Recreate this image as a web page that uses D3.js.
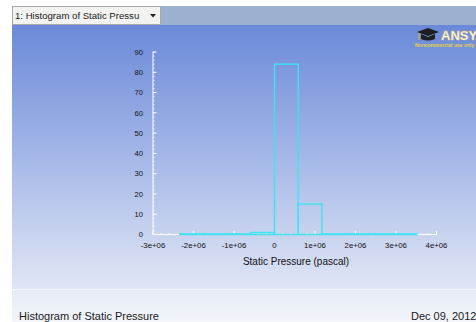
<!DOCTYPE html>
<html>
<head>
<meta charset="utf-8">
<script src="https://cdn.jsdelivr.net/npm/d3@7/dist/d3.min.js"></script>
<style>
  html, body { margin: 0; padding: 0; background: #ffffff; }
  svg { display: block; }
</style>
</head>
<body>
<svg id="chart" width="476" height="322"></svg>
<script>
// Histogram bins of static pressure (pascal): left edges, width and counts
const binStarts = [-2.34e6, -1.755e6, -1.17e6, -0.585e6, 0, 0.585e6, 1.17e6, 1.755e6, 2.34e6, 2.925e6];
const binWidth = 0.585e6;
const binCounts = [0.3, 0.3, 0.3, 1.0, 84, 15, 0.3, 0.3, 0.3, 0.3];

const xTicks = [-3e6, -2e6, -1e6, 0, 1e6, 2e6, 3e6, 4e6];
const xTickLabels = ["-3e+06", "-2e+06", "-1e+06", "0", "1e+06", "2e+06", "3e+06", "4e+06"];
const yTicks = [0, 10, 20, 30, 40, 50, 60, 70, 80, 90];

const titleText = "Histogram of Static Pressure";
const tabText = "1: Histogram of Static Pressu";
const xAxisTitle = "Static Pressure (pascal)";
const dateText = "Dec 09, 2012";

const svg = d3.select("#chart");
const W = 476, H = 322;
const font = "'Liberation Sans', Arial, sans-serif";

// Background gradient of the graphics window
const defs = svg.append("defs");
const grad = defs.append("linearGradient").attr("id", "bg").attr("x1", 0).attr("y1", 0).attr("x2", 0).attr("y2", 1);
grad.append("stop").attr("offset", "0%").attr("stop-color", "#6b89d8");
grad.append("stop").attr("offset", "45%").attr("stop-color", "#9fb3e6");
grad.append("stop").attr("offset", "100%").attr("stop-color", "#e0e6f4");

const foot = defs.append("linearGradient").attr("id", "foot").attr("x1", 0).attr("y1", 0).attr("x2", 0).attr("y2", 1);
foot.append("stop").attr("offset", "0%").attr("stop-color", "#e6ebf6");
foot.append("stop").attr("offset", "100%").attr("stop-color", "#f3f5fa");

const left = 12;
svg.append("rect").attr("x", left).attr("y", 25).attr("width", W - left).attr("height", 265).attr("fill", "url(#bg)");
svg.append("rect").attr("x", left).attr("y", 290).attr("width", W - left).attr("height", 32).attr("fill", "url(#foot)");
svg.append("line").attr("x1", left).attr("x2", W).attr("y1", 289.5).attr("y2", 289.5).attr("stroke", "#f4f7fc").attr("stroke-width", 1);

// Tab bar with the drop-down selector
svg.append("rect").attr("x", left).attr("y", 6).attr("width", W - left).attr("height", 19).attr("fill", "#9cb1cf");
svg.append("rect").attr("x", left + 0.5).attr("y", 6.5).attr("width", 148).attr("height", 18)
  .attr("fill", "#f2f2f0").attr("stroke", "#a8a8a8");
svg.append("text").attr("x", 15).attr("y", 19).attr("font-family", font).attr("font-size", 9.6)
  .attr("fill", "#222").text(tabText);
svg.append("path").attr("d", "M150,14 L156,14 L153,17.5 Z").attr("fill", "#222");

// Scales
const x = d3.scaleLinear().domain([-3e6, 4e6]).range([153, 436.5]);
const y = d3.scaleLinear().domain([0, 90]).range([234.5, 52]);

// Axes
const ax = svg.append("g").attr("font-family", font);
ax.append("line").attr("x1", x(-3e6)).attr("x2", x(4e6)).attr("y1", y(0)).attr("y2", y(0))
  .attr("stroke", "#ffffff").attr("stroke-width", 1);
ax.append("line").attr("x1", x(-3e6)).attr("x2", x(-3e6)).attr("y1", y(0)).attr("y2", y(90))
  .attr("stroke", "#ffffff").attr("stroke-width", 1);

// x minor + major ticks
const xMinor = d3.range(-3e6, 4e6 + 1, 2e5);
ax.selectAll(".xminor").data(xMinor).join("line")
  .attr("x1", d => x(d)).attr("x2", d => x(d)).attr("y1", y(0)).attr("y2", y(0) - 1.5)
  .attr("stroke", "#ffffff").attr("stroke-width", 0.8);
ax.selectAll(".xmajor").data(xTicks).join("line")
  .attr("x1", d => x(d)).attr("x2", d => x(d)).attr("y1", y(0)).attr("y2", y(0) - 3.5)
  .attr("stroke", "#ffffff").attr("stroke-width", 1);
ax.selectAll(".xlab").data(xTicks).join("text")
  .attr("x", d => x(d)).attr("y", y(0) + 13).attr("text-anchor", "middle")
  .attr("font-size", 7.8).attr("fill", "#111")
  .text((d, i) => xTickLabels[i]);

// y minor + major ticks
const yMinor = d3.range(0, 91, 2);
ax.selectAll(".yminor").data(yMinor).join("line")
  .attr("x1", x(-3e6)).attr("x2", x(-3e6) + 1.5).attr("y1", d => y(d)).attr("y2", d => y(d))
  .attr("stroke", "#ffffff").attr("stroke-width", 0.8);
ax.selectAll(".ymajor").data(yTicks).join("line")
  .attr("x1", x(-3e6)).attr("x2", x(-3e6) + 3.5).attr("y1", d => y(d)).attr("y2", d => y(d))
  .attr("stroke", "#ffffff").attr("stroke-width", 1);
ax.selectAll(".ylab").data(yTicks).join("text")
  .attr("x", x(-3e6) - 10).attr("y", d => y(d) + 2.7).attr("text-anchor", "end")
  .attr("font-size", 7.6).attr("fill", "#111")
  .text(d => d);

ax.append("text").attr("x", 296).attr("y", 265).attr("text-anchor", "middle")
  .attr("font-size", 10).attr("fill", "#111").text(xAxisTitle);

// Histogram bars drawn as outlines
svg.append("g").selectAll("rect").data(binStarts).join("rect")
  .attr("x", d => x(d))
  .attr("width", d => x(d + binWidth) - x(d))
  .attr("y", (d, i) => y(binCounts[i]))
  .attr("height", (d, i) => y(0) - y(binCounts[i]))
  .attr("fill", "none").attr("stroke", "#3fe3f0").attr("stroke-width", 1.4);

// Logo in the corner
const logo = svg.append("g");
logo.append("path").attr("d", "M417,32 L428,28 L439,32 L428,36 Z").attr("fill", "#1f1f1f");
logo.append("path").attr("d", "M421,34 L421,39 Q428,42 435,39 L435,34 L428,37 Z").attr("fill", "#1f1f1f");
logo.append("line").attr("x1", 419).attr("x2", 419).attr("y1", 33).attr("y2", 40).attr("stroke", "#d8b43a").attr("stroke-width", 1);
logo.append("text").attr("x", 441).attr("y", 40).attr("font-family", font).attr("font-weight", "bold")
  .attr("font-size", 13).attr("fill", "#ffffff").attr("stroke", "#e0c040").attr("stroke-width", 0.4)
  .text("ANSYS");
logo.append("text").attr("x", 415).attr("y", 47).attr("font-family", font).attr("font-weight", "bold")
  .attr("font-size", 5).attr("fill", "#e8d040").text("Noncommercial use only");

// Footer texts
svg.append("text").attr("x", 19).attr("y", 320).attr("font-family", font).attr("font-size", 11)
  .attr("fill", "#1a1a1a").text(titleText);
svg.append("text").attr("x", 411).attr("y", 320).attr("font-family", font).attr("font-size", 11)
  .attr("fill", "#1a1a1a").text(dateText);
</script>
</body>
</html>
